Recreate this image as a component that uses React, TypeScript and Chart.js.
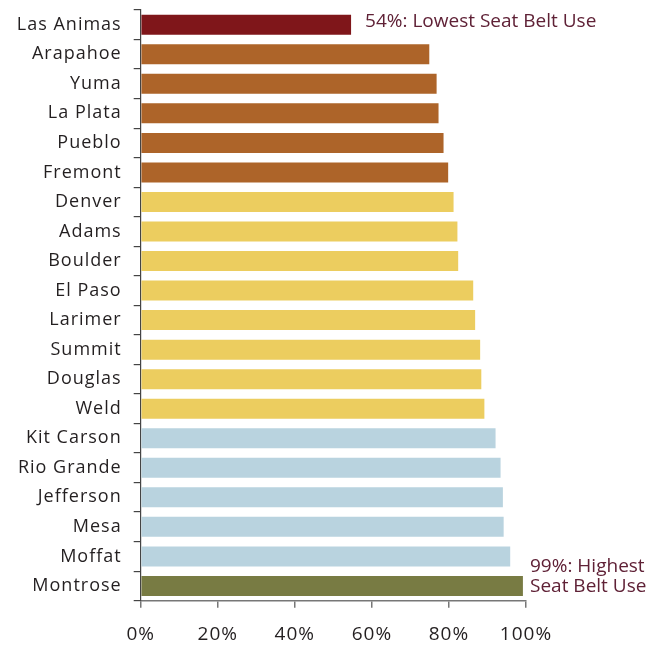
import React, { useEffect, useRef } from "react";
import { Chart, registerables } from "chart.js";

Chart.register(...registerables);

const counties = [
  "Las Animas", "Arapahoe", "Yuma", "La Plata", "Pueblo", "Fremont",
  "Denver", "Adams", "Boulder", "El Paso", "Larimer", "Summit", "Douglas", "Weld",
  "Kit Carson", "Rio Grande", "Jefferson", "Mesa", "Moffat", "Montrose",
];
const seatBeltUse = [
  54.6, 74.9, 76.8, 77.3, 78.6, 79.8,
  81.2, 82.2, 82.4, 86.3, 86.8, 88.1, 88.4, 89.2,
  92.1, 93.4, 94.0, 94.2, 95.9, 99.2,
];
const barColors = [
  "#7f161a", "#ad6429", "#ad6429", "#ad6429", "#ad6429", "#ad6429",
  "#eccd5f", "#eccd5f", "#eccd5f", "#eccd5f", "#eccd5f", "#eccd5f", "#eccd5f", "#eccd5f",
  "#b9d3df", "#b9d3df", "#b9d3df", "#b9d3df", "#b9d3df", "#787b43",
];
const xTicks = [0, 20, 40, 60, 80, 100];
const lowNote = ["54%: Lowest Seat Belt Use"];
const highNote = ["99%: Highest", "Seat Belt Use"];

const FONT = "'Open Sans', 'Liberation Sans', sans-serif";

const spacingPlugin = {
  id: "spacing",
  beforeDraw(chart: any) {
    chart.ctx.letterSpacing = "1px";
  },
  afterDraw(chart: any) {
    chart.ctx.letterSpacing = "0px";
  },
};

const notesPlugin = {
  id: "notes",
  afterDatasetsDraw(chart: any) {
    const { ctx, scales } = chart;
    const x = scales.x;
    const y = scales.y;
    ctx.save();
    ctx.letterSpacing = "0px";
    ctx.fillStyle = "#5f2136";
    ctx.font = `19px ${FONT}`;
    ctx.textAlign = "left";
    ctx.textBaseline = "alphabetic";
    const lowIdx = 0;
    const lx = x.getPixelForValue(seatBeltUse[lowIdx]) + 14;
    const ly = y.getPixelForValue(lowIdx) + 2.5;
    lowNote.forEach((t, i) => ctx.fillText(t, lx, ly + i * 20.5));
    const hiIdx = seatBeltUse.length - 1;
    const hx = x.getPixelForValue(100) + 4;
    const hy = y.getPixelForValue(hiIdx) - 14.3;
    highNote.forEach((t, i) => ctx.fillText(t, hx, hy + i * 20.5));
    ctx.restore();
  },
};

export default function App() {
  const ref = useRef<HTMLCanvasElement>(null);
  useEffect(() => {
    if (!ref.current) return;
    const chart = new Chart(ref.current, {
      type: "bar",
      data: {
        labels: counties,
        datasets: [
          {
            data: seatBeltUse,
            backgroundColor: barColors,
            borderWidth: 0,
            categoryPercentage: 1,
            barPercentage: 0.677,
          },
        ],
      },
      options: {
        indexAxis: "y",
        responsive: false,
        animation: false,
        layout: { padding: { top: 10, right: 130, left: 0, bottom: 0 } },
        plugins: { legend: { display: false }, tooltip: { enabled: false } },
        scales: {
          x: {
            type: "linear",
            min: 0,
            max: 100,
            afterBuildTicks: (s: any) => {
              s.ticks = xTicks.map((v) => ({ value: v }));
            },
            afterFit: (s: any) => {
              s.height = 44.3;
              s.paddingLeft = 0;
              s.paddingRight = 0;
            },
            ticks: {
              callback: (v: any) => `${v}%`,
              color: "#231f20",
              font: { family: FONT, size: 19 },
              padding: 15,
              maxRotation: 0,
            },
            grid: { drawOnChartArea: false, drawTicks: true, tickLength: 7, color: "#777777", lineWidth: 1.5 },
            border: { display: true, color: "#777777", width: 1.5 },
          },
          y: {
            afterFit: (s: any) => {
              s.width = 140.7;
              s.paddingTop = 0;
              s.paddingBottom = 0;
            },
            ticks: {
              color: "#231f20",
              font: { family: FONT, size: 18 },
              padding: 12,
              autoSkip: false,
            },
            grid: { offset: true, drawOnChartArea: false, drawTicks: true, tickLength: 7, color: "#444444", lineWidth: 1.2 },
            border: { display: true, color: "#444444", width: 1.2 },
          },
        },
      },
      plugins: [spacingPlugin, notesPlugin],
    });
    return () => chart.destroy();
  }, []);
  return (
    <div style={{ position: "fixed", left: 0, top: 0, width: 656, height: 645, background: "#ffffff" }}>
      <canvas ref={ref} width={656} height={645} style={{ width: 656, height: 645, display: "block" }} />
    </div>
  );
}
